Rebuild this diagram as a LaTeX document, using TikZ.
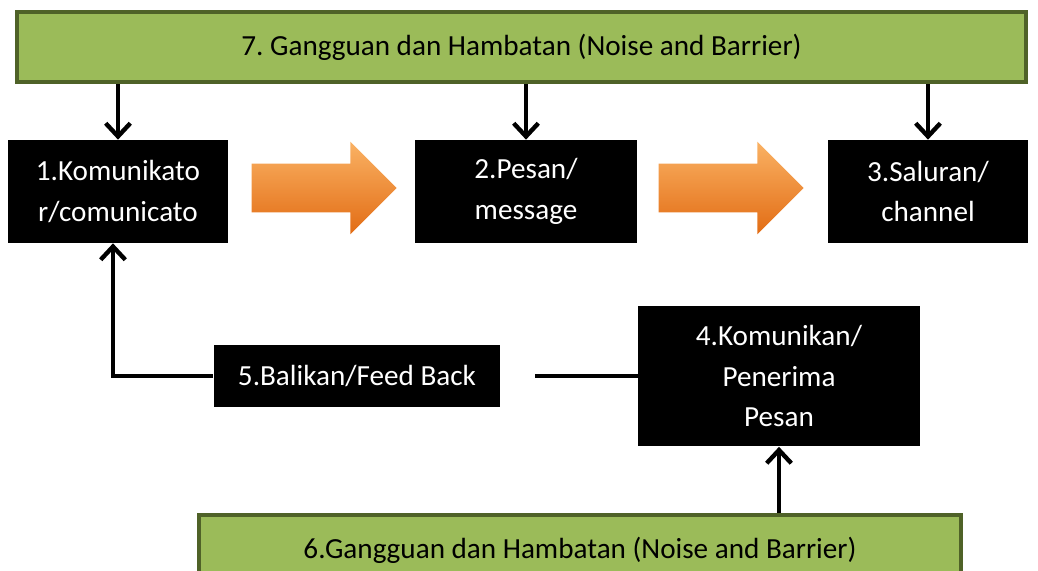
\documentclass[tikz,border=0pt]{standalone}
\usepackage{fontspec}
\setmainfont{Carlito}
\usepackage{tikz}
\usetikzlibrary{shapes.arrows, arrows.meta, positioning}
\definecolor{noisefill}{RGB}{155,187,89}
\definecolor{noiseline}{RGB}{79,98,40}
\definecolor{arrowlight}{RGB}{250,178,100}
\definecolor{arrowdark}{RGB}{226,108,20}
\tikzset{
    noise/.style={rectangle, draw=noiseline, line width=2.3pt, fill=noisefill, text centered, minimum height=1.4cm, font=\fontsize{16.6}{23}\selectfont},
    blackbox/.style={rectangle, fill=black, text=white, text centered, align=center, font=\fontsize{16.6}{23}\selectfont},
    bigarrow/.style={single arrow, single arrow head extend=0.44cm, inner ysep=0.48cm, inner xsep=0pt, minimum height=2.9cm, top color=arrowlight, bottom color=arrowdark, draw=none},
    arrow/.style={-{Straight Barb[length=7.5pt, width=14pt]}, line width=2.5pt},
    line/.style={line width=2.5pt}
}

\begin{document}
\begin{tikzpicture}[x=0.02cm, y=-0.02cm]
    \path[use as bounding box] (0,0) rectangle (1038,571);
    \clip (0,0) rectangle (1038,571);

    % Noise bars
    \node[noise, minimum width=20.2cm] (noise7) at (521.5,47) {7.\ Gangguan dan Hambatan (Noise and Barrier)};
    \node[noise, minimum width=15.24cm] (noise6) at (580,550) {6.Gangguan dan Hambatan (Noise and Barrier)};

    % Main boxes
    \node[blackbox, minimum width=4.4cm, minimum height=2.06cm] (kom) at (118,191.5) {1.Komunikato \\ r/comunicato};
    \node[blackbox, minimum width=4.44cm, minimum height=2.06cm] (pesan) at (526,191.5) {2.Pesan/ \\ message};
    \node[blackbox, minimum width=4.0cm, minimum height=2.06cm] (saluran) at (928,191.5) {3.Saluran/ \\ channel};
    \node[blackbox, minimum width=5.64cm, minimum height=2.82cm] (komunikan) at (779,376) {4.Komunikan/ \\ Penerima \\ Pesan};
    \node[blackbox, minimum width=5.74cm, minimum height=1.24cm] (balikan) at (357,376) {5.Balikan/Feed Back};

    % Orange arrows
    \node[bigarrow] (flow1) at (312,188) {};
    \node[bigarrow] (flow2) at (719,188) {};

    % Noise arrows
    \draw[arrow] (noise7.south -| kom) -- (kom.north);
    \draw[arrow] (noise7.south -| pesan) -- (pesan.north);
    \draw[arrow] (noise7.south -| saluran) -- (saluran.north);
    \draw[arrow] (noise6.north -| komunikan) -- (komunikan.south);

    % Feed back
    \coordinate (fbgap) at (535,376);
    \coordinate (fbcorner) at (113,376);
    \draw[line] (komunikan.west |- balikan) -- (fbgap);
    \draw[arrow] (balikan.west) -- (fbcorner) -- (fbcorner |- kom.south);
\end{tikzpicture}
\end{document}
